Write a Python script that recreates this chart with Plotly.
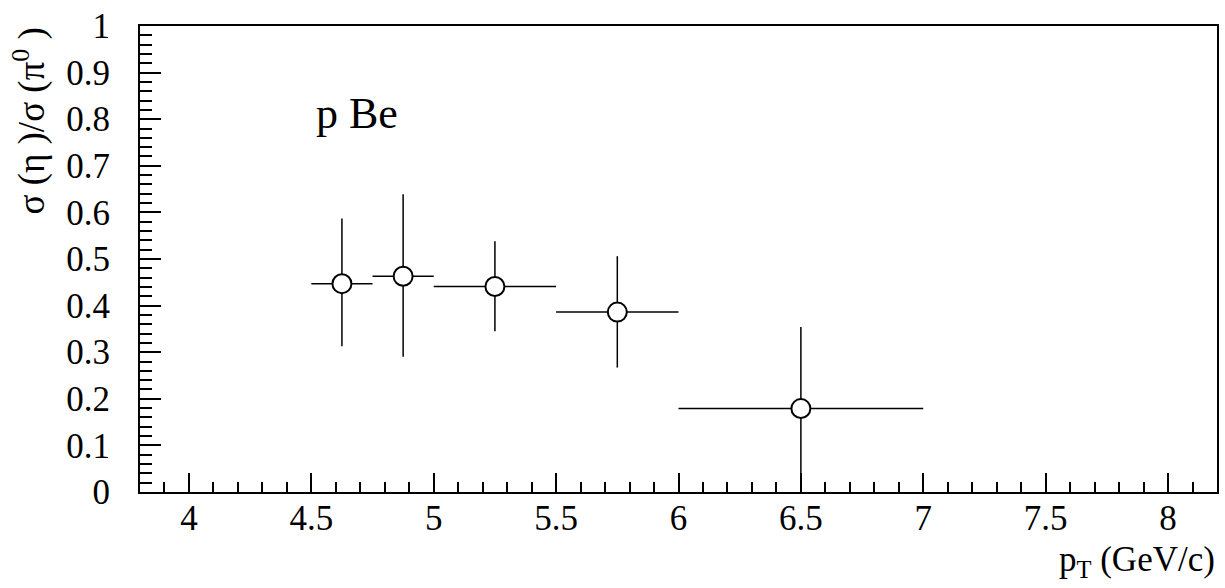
import plotly.graph_objects as go

# eta / pi0 cross-section ratio, p Be
pt = [4.625, 4.875, 5.25, 5.75, 6.5]
pt_lo = [0.125, 0.125, 0.25, 0.25, 0.5]
pt_hi = [0.125, 0.125, 0.25, 0.25, 0.5]
ratio = [0.447, 0.463, 0.441, 0.386, 0.179]
err_up = [0.140, 0.176, 0.097, 0.120, 0.175]
err_dn = [0.134, 0.173, 0.096, 0.119, 0.179]

x_ticks = [4, 4.5, 5, 5.5, 6, 6.5, 7, 7.5, 8]
y_ticks = [0, 0.1, 0.2, 0.3, 0.4, 0.5, 0.6, 0.7, 0.8, 0.9, 1]

SERIF = "Liberation Serif"

fig = go.Figure()
fig.add_trace(go.Scatter(
    x=pt, y=ratio, mode="markers",
    marker=dict(symbol="circle", size=19, color="white",
                line=dict(color="black", width=2)),
    error_x=dict(type="data", symmetric=False, array=pt_hi, arrayminus=pt_lo,
                 color="black", thickness=1.5, width=0),
    error_y=dict(type="data", symmetric=False, array=err_up, arrayminus=err_dn,
                 color="black", thickness=1.5, width=0),
    showlegend=False,
))

fig.add_annotation(x=4.51, y=0.812, xref="x", yref="y", text="p Be",
                   showarrow=False, xanchor="left", yanchor="middle",
                   font=dict(family=SERIF, size=44, color="black"))

fig.add_annotation(x=-0.103, y=1.0, xref="paper", yref="paper",
                   text="σ (η )/σ (π<sup>0</sup> )", textangle=-90,
                   showarrow=False, xanchor="center", yanchor="top",
                   font=dict(family=SERIF, size=37, color="black"))

fig.add_annotation(x=1.0, y=-0.20, xref="paper", yref="paper",
                   text="p<sub>T</sub> (GeV/c)", showarrow=False,
                   xanchor="right", yanchor="bottom",
                   font=dict(family=SERIF, size=35, color="black"))

axis_common = dict(
    showgrid=False, zeroline=False, showline=True, linecolor="black",
    linewidth=2, mirror=True, ticks="inside", tickcolor="black",
    tickwidth=2, tickfont=dict(family=SERIF, size=35, color="black"),
)

fig.update_xaxes(range=[3.8, 8.2], tickvals=x_ticks, ticklen=19,
                 ticklabelstandoff=-6,
                 minor=dict(dtick=0.1, tick0=4, ticks="inside", ticklen=10,
                            tickwidth=1.5, tickcolor="black"),
                 **axis_common)
fig.update_yaxes(range=[0, 1], tickvals=y_ticks, ticklen=21,
                 ticklabelstandoff=21,
                 minor=dict(dtick=0.02, tick0=0, ticks="inside", ticklen=12,
                            tickwidth=1.5, tickcolor="black"),
                 **axis_common)

fig.update_layout(
    width=1225, height=588,
    margin=dict(l=140, r=6, t=26, b=96),
    plot_bgcolor="white", paper_bgcolor="white",
)

fig.write_html("out.html")
